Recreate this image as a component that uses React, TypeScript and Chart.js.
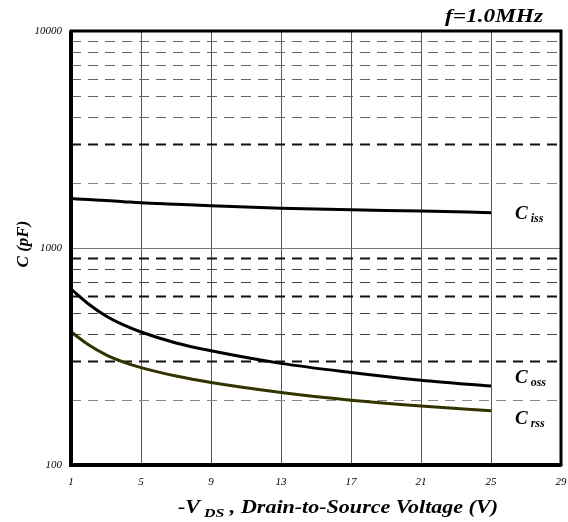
import React, { useEffect, useRef } from "react";
import { Chart, registerables } from "chart.js";

Chart.register(...registerables);

const voltages = [1, 2, 3, 4, 5, 7, 9, 13, 17, 21, 25];
const ciss = [1690, 1672, 1655, 1635, 1615, 1590, 1565, 1525, 1500, 1480, 1455];
const coss = [647, 552, 486, 442, 410, 365, 336, 294, 267, 246, 231];
const crss = [411, 358, 322, 298, 281, 257, 240, 216, 199, 187, 178];
const xTicks = [1, 5, 9, 13, 17, 21, 25, 29];
const yMajor = [100, 1000, 10000];
const yMinor = [200, 300, 400, 500, 600, 700, 800, 900, 2000, 3000, 4000, 5000, 6000, 7000, 8000, 9000];
const yHeavy = [300, 600, 900, 3000];
const seriesLabels = [
  { main: "C", sub: "iss" },
  { main: "C", sub: "oss" },
  { main: "C", sub: "rss" },
];

const SERIF = "'Liberation Serif', 'DejaVu Serif', serif";

function drawStretched(ctx: any, text: string, font: string, x: number, y: number, width: number, align: string) {
  ctx.save();
  ctx.font = font;
  const w = ctx.measureText(text).width;
  const sx = width / w;
  const left = align === "right" ? x - width : align === "center" ? x - width / 2 : x;
  ctx.translate(left, y);
  ctx.scale(sx, 1);
  ctx.textAlign = "left";
  ctx.fillText(text, 0, 0);
  ctx.restore();
}

const decorPlugin = {
  id: "decor",
  beforeDatasetsDraw(chart: any) {
    const { ctx, chartArea: a, scales } = chart;
    const y = scales.y;
    ctx.save();
    yMinor.forEach((v) => {
      const py = Math.round(y.getPixelForValue(v)) + 0.5;
      const heavy = yHeavy.includes(v);
      ctx.beginPath();
      ctx.setLineDash([10, 7]);
      ctx.lineWidth = heavy ? 2 : 1;
      ctx.strokeStyle = heavy ? "#111" : v === 200 || v === 2000 ? "#888" : v > 1000 ? "#666" : "#444";
      ctx.moveTo(a.left, py);
      ctx.lineTo(a.right, py);
      ctx.stroke();
    });
    ctx.setLineDash([]);
    yMajor.forEach((v) => {
      const py = Math.round(y.getPixelForValue(v)) + 0.5;
      ctx.beginPath();
      ctx.lineWidth = 1;
      ctx.strokeStyle = "#777";
      ctx.moveTo(a.left, py);
      ctx.lineTo(a.right, py);
      ctx.stroke();
    });
    ctx.restore();
  },
  afterDatasetsDraw(chart: any) {
    const { ctx, chartArea: a, scales } = chart;
    const x = scales.x;
    const y = scales.y;
    ctx.save();
    ctx.strokeStyle = "#000";
    ctx.lineWidth = 3;
    ctx.strokeRect(a.left, a.top, a.right - a.left, a.bottom - a.top);
    ctx.lineWidth = 4;
    ctx.beginPath();
    ctx.moveTo(a.left, a.top);
    ctx.lineTo(a.left, a.bottom);
    ctx.lineTo(a.right, a.bottom);
    ctx.stroke();

    const ends = [ciss, coss, crss];
    const offs = [0, -9, 7];
    ends.forEach((arr, i) => {
      const px = x.getPixelForValue(voltages[voltages.length - 1]) + 24;
      const py = y.getPixelForValue(arr[arr.length - 1]) + offs[i];
      ctx.fillStyle = "#000";
      ctx.textBaseline = "alphabetic";
      ctx.textAlign = "left";
      ctx.font = `bold italic 19px ${SERIF}`;
      ctx.fillText(seriesLabels[i].main, px, py + 6);
      const w = ctx.measureText(seriesLabels[i].main).width;
      ctx.font = `bold italic 12px ${SERIF}`;
      ctx.fillText(seriesLabels[i].sub, px + w + 3, py + 9);
    });

    ctx.textBaseline = "alphabetic";
    drawStretched(ctx, "f=1.0MHz", `bold italic 18px ${SERIF}`, 543, 22, 98, "right");

    ctx.save();
    ctx.translate(28, (a.top + a.bottom) / 2 - 4);
    ctx.rotate(-Math.PI / 2);
    ctx.textAlign = "center";
    ctx.font = `bold italic 17px ${SERIF}`;
    ctx.fillText("C (pF)", 0, 0);
    ctx.restore();

    const parts = [
      { t: "-V", f: `bold italic 18px ${SERIF}`, dy: 0 },
      { t: " DS", f: `bold italic 13px ${SERIF}`, dy: 4 },
      { t: " , Drain-to-Source Voltage (V)", f: `bold italic 18px ${SERIF}`, dy: 0 },
    ];
    let total = 0;
    parts.forEach((p) => {
      ctx.font = p.f;
      total += ctx.measureText(p.t).width;
    });
    const targetW = 320;
    const sx = targetW / total;
    ctx.save();
    ctx.translate(178, 513);
    ctx.scale(sx, 1);
    let cx = 0;
    ctx.textAlign = "left";
    parts.forEach((p) => {
      ctx.font = p.f;
      ctx.fillText(p.t, cx, p.dy);
      cx += ctx.measureText(p.t).width;
    });
    ctx.restore();
    ctx.restore();
  },
};

export default function App() {
  const ref = useRef<HTMLCanvasElement | null>(null);
  useEffect(() => {
    if (!ref.current) return;
    const mk = (label: string, vals: number[], color: string) => ({
      label,
      data: voltages.map((v, i) => ({ x: v, y: vals[i] })),
      borderColor: color,
      borderWidth: 3,
      pointRadius: 0,
      cubicInterpolationMode: "monotone",
    });
    const chart = new Chart(ref.current, {
      type: "line",
      data: {
        datasets: [mk("Ciss", ciss, "#000"), mk("Coss", coss, "#000"), mk("Crss", crss, "#333300")],
      },
      options: {
        animation: false,
        responsive: false,
        maintainAspectRatio: false,
        layout: { padding: { left: 9, right: 7, top: 31, bottom: 0 } },
        plugins: { legend: { display: false }, tooltip: { enabled: false } },
        scales: {
          x: {
            type: "linear",
            min: 1,
            max: 29,
            afterBuildTicks: (s: any) => {
              s.ticks = xTicks.map((v) => ({ value: v }));
            },
            afterFit: (s: any) => {
              s.height = 57;
              s.paddingLeft = 0;
              s.paddingRight = 0;
            },
            grid: { color: "#555", lineWidth: 1, drawTicks: false },
            border: { display: false },
            ticks: {
              padding: 11,
              maxRotation: 0,
              minRotation: 0,
              color: "#000",
              font: { family: SERIF, style: "italic", size: 11 },
            },
          },
          y: {
            type: "logarithmic",
            min: 100,
            max: 10000,
            afterBuildTicks: (s: any) => {
              s.ticks = yMajor.map((v) => ({ value: v }));
            },
            afterFit: (s: any) => {
              s.width = 62;
              s.paddingTop = 0;
              s.paddingBottom = 0;
            },
            grid: { display: false, drawTicks: false },
            border: { display: false },
            ticks: {
              padding: 9,
              color: "#000",
              font: { family: SERIF, style: "italic", size: 11 },
              callback: (v: any) => String(v),
            },
          },
        },
      },
      plugins: [decorPlugin],
    } as any);
    return () => chart.destroy();
  }, []);
  return (
    <div style={{ position: "fixed", left: 0, top: 0, width: 568, height: 522, background: "#fff" }}>
      <canvas ref={ref} width={568} height={522} style={{ width: 568, height: 522 }} />
    </div>
  );
}
